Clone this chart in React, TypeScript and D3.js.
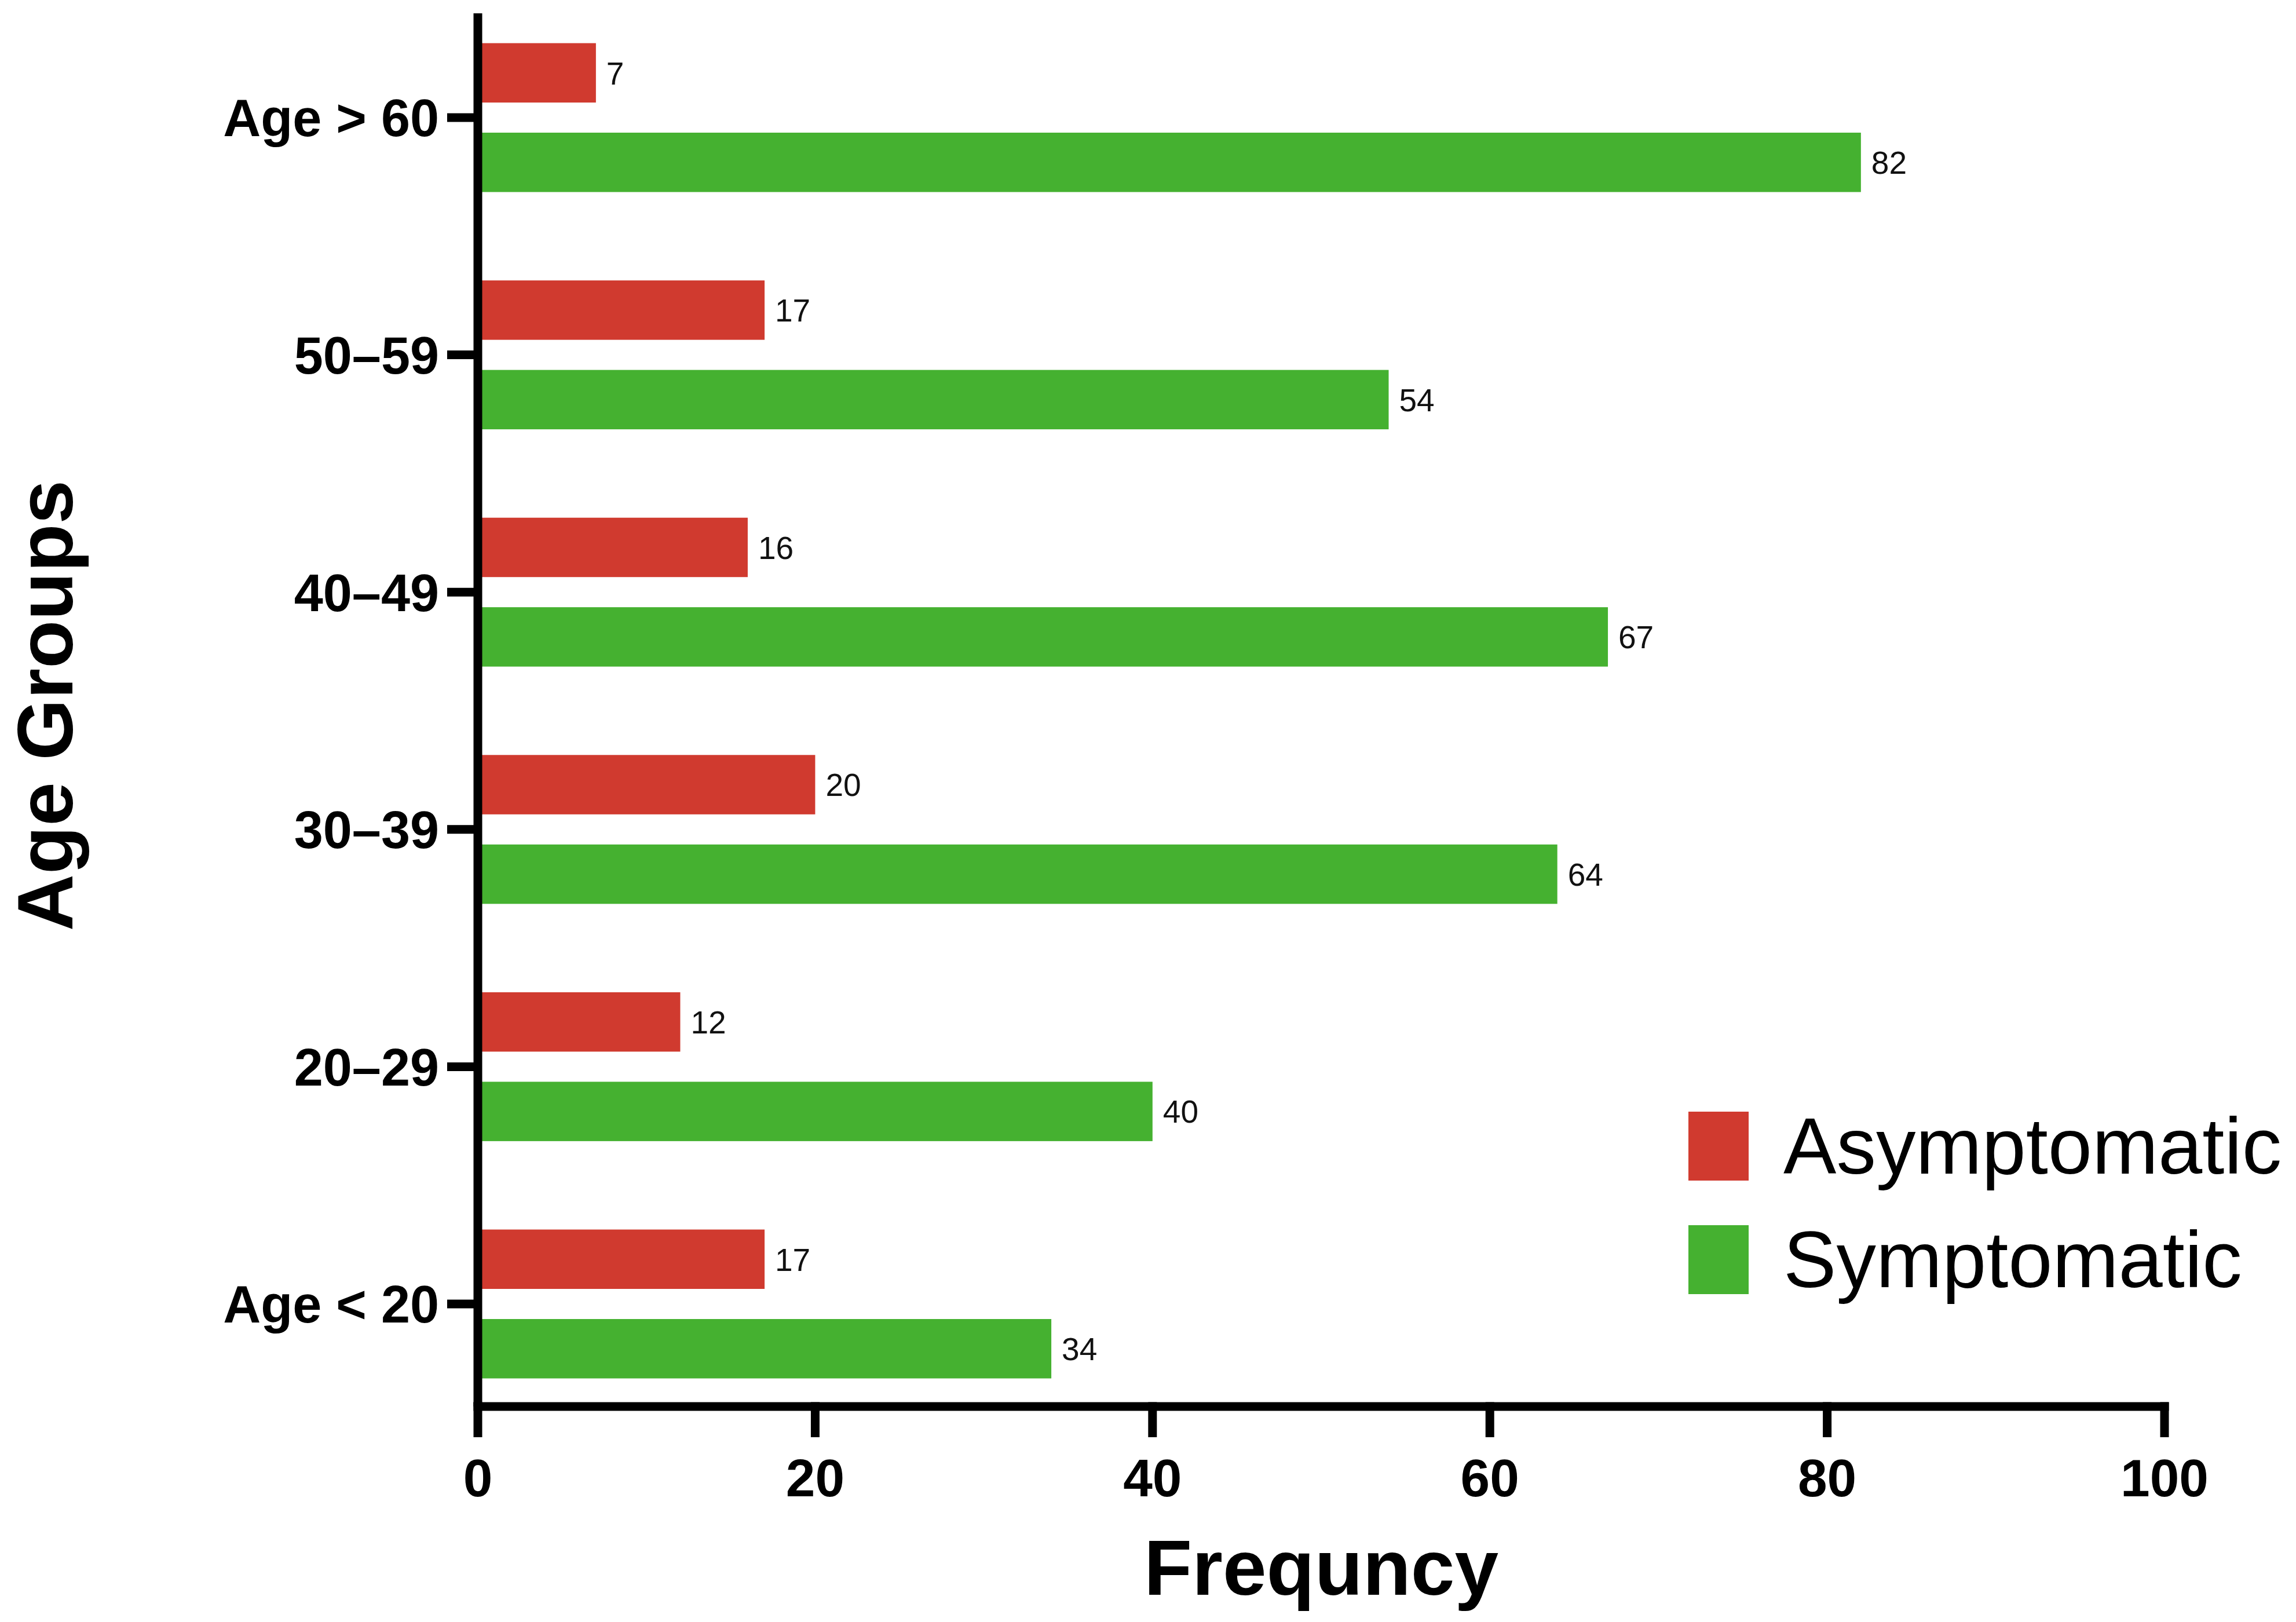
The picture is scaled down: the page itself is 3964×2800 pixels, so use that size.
import React, { useEffect, useRef } from 'react';
import * as d3 from 'd3';

// Data (top group first)
const ageGroups = ['Age > 60', '50–59', '40–49', '30–39', '20–29', 'Age < 20'];
const seriesNames = ['Asymptomatic', 'Symptomatic'];
const asymptomatic = [7, 17, 16, 20, 12, 17];
const symptomatic = [82, 54, 67, 64, 40, 34];
const xTicks = [0, 20, 40, 60, 80, 100];
const seriesColors = ['#D03A2F', '#45B130'];

const WIDTH = 3964;
const HEIGHT = 2800;
const FONT = '"Liberation Sans", Arial, Helvetica, sans-serif';

const App: React.FC = () => {
  const svgRef = useRef<SVGSVGElement>(null);

  useEffect(() => {
    document.body.style.margin = '0';
    if (!svgRef.current) return;

    const svg = d3.select(svgRef.current);
    svg.selectAll('*').remove();

    const left = 825;
    const right = 3737;
    const axisTop = 23;
    const axisBottom = 2428;
    const step = 409.6;
    const firstCenter = 203;
    const axisWidth = 15;
    const tickLen = 53;

    // Scales
    const x = d3.scaleLinear().domain([0, 100]).range([left, right]);

    const y0 = d3.scaleBand<string>()
      .domain(ageGroups)
      .range([firstCenter - step / 2, firstCenter - step / 2 + step * ageGroups.length])
      .paddingInner(0)
      .paddingOuter(0);

    const groupSpan = 257;
    const y1 = d3.scaleBand<string>()
      .domain(seriesNames)
      .range([(y0.bandwidth() - groupSpan) / 2, (y0.bandwidth() + groupSpan) / 2])
      .paddingInner(0.3366)
      .paddingOuter(0);

    const rows = ageGroups.map((g, i) => ({
      group: g,
      values: [
        { key: seriesNames[0], value: asymptomatic[i], color: seriesColors[0] },
        { key: seriesNames[1], value: symptomatic[i], color: seriesColors[1] },
      ],
    }));

    // Bars
    const groups = svg.selectAll<SVGGElement, typeof rows[number]>('.group')
      .data(rows)
      .enter()
      .append('g')
      .attr('class', 'group')
      .attr('transform', d => `translate(0,${y0(d.group) || 0})`);

    groups.selectAll('rect')
      .data(d => d.values)
      .enter()
      .append('rect')
      .attr('x', x(0))
      .attr('y', d => y1(d.key) || 0)
      .attr('width', d => x(d.value) - x(0))
      .attr('height', y1.bandwidth())
      .attr('fill', d => d.color);

    // Data labels
    groups.selectAll('text.value')
      .data(d => d.values)
      .enter()
      .append('text')
      .attr('class', 'value')
      .attr('x', d => x(d.value) + 18)
      .attr('y', d => (y1(d.key) || 0) + y1.bandwidth() / 2)
      .attr('dy', '0.36em')
      .style('font-family', FONT)
      .style('font-size', '55px')
      .style('fill', '#111')
      .text(d => d.value);

    // Axes
    const axisG = svg.append('g').attr('stroke', '#000').attr('stroke-width', axisWidth);

    axisG.append('line')
      .attr('x1', left).attr('x2', left)
      .attr('y1', axisTop).attr('y2', axisBottom);

    axisG.append('line')
      .attr('x1', left - axisWidth / 2).attr('x2', right + axisWidth / 2)
      .attr('y1', axisBottom).attr('y2', axisBottom);

    // x ticks
    axisG.selectAll('line.xtick')
      .data(xTicks)
      .enter()
      .append('line')
      .attr('class', 'xtick')
      .attr('x1', d => x(d)).attr('x2', d => x(d))
      .attr('y1', axisBottom - axisWidth / 2).attr('y2', axisBottom + tickLen);

    svg.selectAll('text.xlabel')
      .data(xTicks)
      .enter()
      .append('text')
      .attr('class', 'xlabel')
      .attr('x', d => x(d))
      .attr('y', 2583)
      .attr('text-anchor', 'middle')
      .style('font-family', FONT)
      .style('font-weight', 'bold')
      .style('font-size', '91px')
      .text(d => d);

    // y ticks
    axisG.selectAll('line.ytick')
      .data(ageGroups)
      .enter()
      .append('line')
      .attr('class', 'ytick')
      .attr('x1', left - tickLen).attr('x2', left)
      .attr('y1', d => (y0(d) || 0) + y0.bandwidth() / 2)
      .attr('y2', d => (y0(d) || 0) + y0.bandwidth() / 2);

    svg.selectAll('text.ylabel')
      .data(ageGroups)
      .enter()
      .append('text')
      .attr('class', 'ylabel')
      .attr('x', 758)
      .attr('y', d => (y0(d) || 0) + y0.bandwidth() / 2)
      .attr('dy', '0.36em')
      .attr('text-anchor', 'end')
      .style('font-family', FONT)
      .style('font-weight', 'bold')
      .style('font-size', '90px')
      .text(d => d);

    // Axis titles
    svg.append('text')
      .attr('x', (left + right) / 2)
      .attr('y', 2753)
      .attr('text-anchor', 'middle')
      .style('font-family', FONT)
      .style('font-weight', 'bold')
      .style('font-size', '136px')
      .text('Frequncy');

    svg.append('text')
      .attr('transform', 'rotate(-90)')
      .attr('x', -1218)
      .attr('y', 125)
      .attr('text-anchor', 'middle')
      .style('font-family', FONT)
      .style('font-weight', 'bold')
      .style('font-size', '136px')
      .text('Age Groups');

    // Legend
    const legend = svg.selectAll<SVGGElement, string>('.legend')
      .data(seriesNames)
      .enter()
      .append('g')
      .attr('class', 'legend')
      .attr('transform', (_d, i) => `translate(2915,${1919 + i * 196})`);

    legend.append('rect')
      .attr('width', 104)
      .attr('height', 119)
      .attr('fill', (_d, i) => seriesColors[i]);

    legend.append('text')
      .attr('x', 164)
      .attr('y', 59.5 + 47)
      .style('font-family', FONT)
      .style('font-size', '137px')
      .style('fill', '#000')
      .text(d => d);
  }, []);

  return (
    <svg
      ref={svgRef}
      width={WIDTH}
      height={HEIGHT}
      viewBox={`0 0 ${WIDTH} ${HEIGHT}`}
      style={{ display: 'block', background: '#fff' }}
    />
  );
};

export default App;
